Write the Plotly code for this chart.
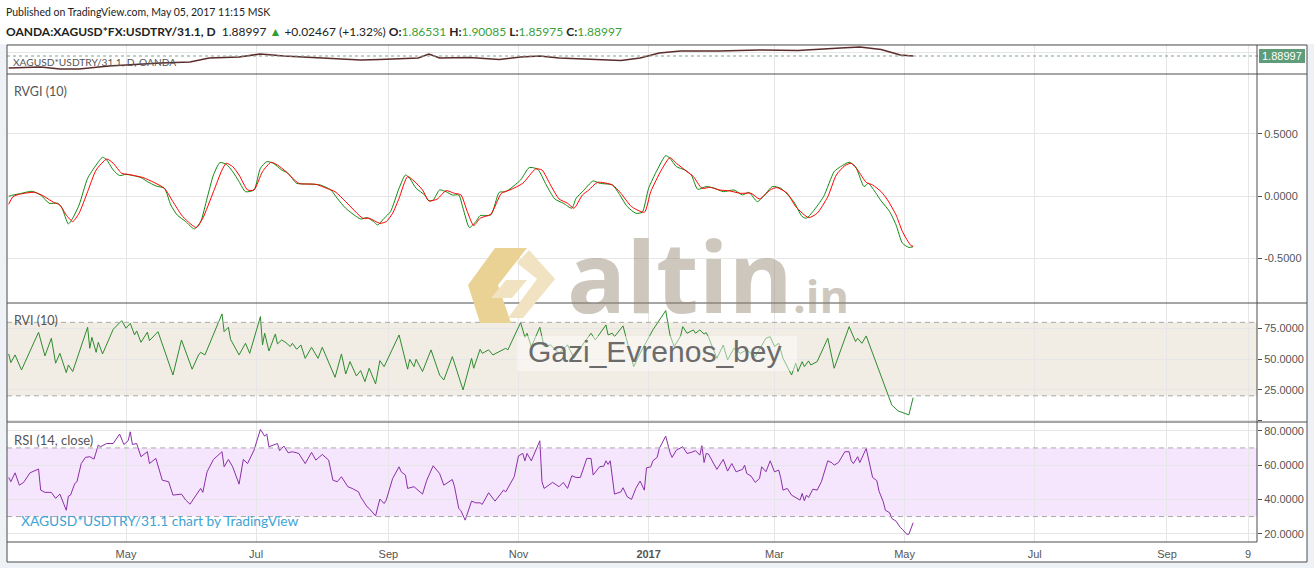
import plotly.graph_objects as go
from plotly.subplots import make_subplots

# ---------------- data ----------------
price_dates = ["2016-03-07", "2016-03-22", "2016-03-31", "2016-04-09", "2016-04-23", "2016-05-08",
               "2016-05-17", "2016-05-31", "2016-06-05", "2016-06-09", "2016-06-23", "2016-07-03",
               "2016-07-14", "2016-07-22", "2016-08-05", "2016-08-19", "2016-08-28", "2016-09-15",
               "2016-09-20", "2016-09-25", "2016-10-09", "2016-10-23", "2016-11-02", "2016-11-11",
               "2016-11-20", "2016-12-09", "2016-12-19", "2016-12-28", "2017-01-06", "2017-01-16",
               "2017-02-03", "2017-02-22", "2017-03-12", "2017-04-01", "2017-04-10", "2017-04-20",
               "2017-04-29", "2017-05-05"]
price_vals = [1.47, 1.505, 1.435, 1.435, 1.54, 1.61, 1.645, 1.68, 1.75, 1.82, 1.855, 1.96,
              1.89, 1.855, 1.82, 1.75, 1.77, 1.82, 1.96, 1.82, 1.84, 1.77, 1.855, 1.89,
              1.82, 1.77, 1.73, 1.82, 1.995, 2.065, 2.065, 2.10, 2.08, 2.17, 2.205, 2.12,
              1.925, 1.88997]
last_price = 1.88997

rvgi_dates = ["2016-03-07", "2016-03-09", "2016-03-12", "2016-03-18", "2016-03-22", "2016-03-26",
              "2016-03-30", "2016-04-01", "2016-04-04", "2016-04-06", "2016-04-09", "2016-04-13",
              "2016-04-17", "2016-04-20", "2016-04-22", "2016-04-25", "2016-04-28", "2016-05-01",
              "2016-05-08", "2016-05-11", "2016-05-15", "2016-05-19", "2016-05-22", "2016-05-25",
              "2016-05-29", "2016-06-02", "2016-06-05", "2016-06-08", "2016-06-11", "2016-06-14",
              "2016-06-17", "2016-06-20", "2016-06-23", "2016-06-26", "2016-06-30", "2016-07-03",
              "2016-07-06", "2016-07-09", "2016-07-13", "2016-07-16", "2016-07-20", "2016-07-25",
              "2016-07-31", "2016-08-05", "2016-08-08", "2016-08-12", "2016-08-19", "2016-08-22",
              "2016-08-25", "2016-08-27", "2016-08-30", "2016-09-02", "2016-09-06", "2016-09-09",
              "2016-09-11", "2016-09-14", "2016-09-18", "2016-09-20", "2016-09-22", "2016-09-25",
              "2016-09-28", "2016-10-01", "2016-10-04", "2016-10-06", "2016-10-09", "2016-10-12",
              "2016-10-14", "2016-10-19", "2016-10-23", "2016-10-26", "2016-11-02", "2016-11-06",
              "2016-11-10", "2016-11-14", "2016-11-18", "2016-11-22", "2016-11-26", "2016-11-28",
              "2016-12-01", "2016-12-06", "2016-12-09", "2016-12-15", "2016-12-18", "2016-12-22",
              "2016-12-26", "2016-12-29", "2017-01-01", "2017-01-05", "2017-01-09", "2017-01-11",
              "2017-01-14", "2017-01-18", "2017-01-21", "2017-01-24", "2017-01-28", "2017-02-01",
              "2017-02-05", "2017-02-10", "2017-02-14", "2017-02-17", "2017-02-21", "2017-02-25",
              "2017-02-28", "2017-03-04", "2017-03-10", "2017-03-14", "2017-03-16", "2017-03-19",
              "2017-03-24", "2017-03-29", "2017-04-01", "2017-04-05", "2017-04-08", "2017-04-12",
              "2017-04-14", "2017-04-16", "2017-04-20", "2017-04-24", "2017-04-27", "2017-04-30",
              "2017-05-03", "2017-05-05"]
rvgi_vals = [0.00, 0.01, 0.02, 0.04, 0.01, -0.056, -0.056, -0.096, -0.222, -0.176, -0.07, 0.144,
             0.251, 0.313, 0.291, 0.211, 0.166, 0.176, 0.150, 0.118, 0.083, 0.064, -0.07, -0.150,
             -0.203, -0.262, -0.203, -0.016, 0.171, 0.270, 0.257, 0.198, 0.118, 0.037, 0.051, 0.225,
             0.278, 0.265, 0.211, 0.184, 0.104, 0.099, 0.091, 0.051, -0.016, -0.096, -0.182, -0.171,
             -0.203, -0.230, -0.176, -0.123, 0.064, 0.171, 0.144, 0.064, 0.011, -0.037, -0.03, 0.051,
             0.037, 0.01, 0.01, -0.096, -0.251, -0.203, -0.155, -0.150, 0.032, 0.037, 0.131, 0.230,
             0.217, 0.091, -0.021, -0.056, -0.096, -0.016, 0.037, 0.123, 0.104, 0.091, 0.024, -0.083,
             -0.136, -0.128, 0.064, 0.211, 0.326, 0.305, 0.238, 0.211, 0.171, 0.056, 0.078, 0.064,
             0.037, 0.051, 0.011, 0.032, -0.043, 0.024, 0.078, 0.064, -0.043, -0.163, -0.176, -0.123,
             -0.003, 0.198, 0.238, 0.273, 0.238, 0.078, 0.104, 0.064, -0.037, -0.123, -0.230, -0.377,
             -0.41, -0.405]

signal_dates = ["2016-03-07", "2016-03-09", "2016-03-12", "2016-03-19", "2016-03-23", "2016-03-28",
                "2016-03-31", "2016-04-03", "2016-04-06", "2016-04-09", "2016-04-13", "2016-04-17",
                "2016-04-22", "2016-04-25", "2016-04-29", "2016-05-02", "2016-05-09", "2016-05-14",
                "2016-05-19", "2016-05-23", "2016-05-27", "2016-05-30", "2016-06-03", "2016-06-06",
                "2016-06-11", "2016-06-15", "2016-06-17", "2016-06-20", "2016-06-23", "2016-06-27",
                "2016-06-30", "2016-07-04", "2016-07-08", "2016-07-11", "2016-07-15", "2016-07-21",
                "2016-07-29", "2016-08-03", "2016-08-07", "2016-08-12", "2016-08-20", "2016-08-23",
                "2016-08-28", "2016-08-31", "2016-09-03", "2016-09-06", "2016-09-10", "2016-09-13",
                "2016-09-17", "2016-09-20", "2016-09-24", "2016-09-28", "2016-10-02", "2016-10-05",
                "2016-10-08", "2016-10-11", "2016-10-14", "2016-10-19", "2016-10-24", "2016-10-28",
                "2016-11-03", "2016-11-09", "2016-11-12", "2016-11-16", "2016-11-20", "2016-11-24",
                "2016-11-27", "2016-12-01", "2016-12-04", "2016-12-08", "2016-12-15", "2016-12-19",
                "2016-12-24", "2016-12-30", "2017-01-02", "2017-01-07", "2017-01-11", "2017-01-14",
                "2017-01-19", "2017-01-22", "2017-01-26", "2017-01-30", "2017-02-03", "2017-02-08",
                "2017-02-13", "2017-02-18", "2017-02-22", "2017-02-27", "2017-03-02", "2017-03-07",
                "2017-03-11", "2017-03-17", "2017-03-21", "2017-03-26", "2017-03-30", "2017-04-03",
                "2017-04-06", "2017-04-09", "2017-04-13", "2017-04-16", "2017-04-20", "2017-04-23",
                "2017-04-27", "2017-04-30", "2017-05-04", "2017-05-05"]
signal_vals = [-0.064, -0.003, 0.016, 0.032, 0.005, -0.048, -0.070, -0.150, -0.203, -0.136, 0.037, 0.211,
               0.299, 0.265, 0.184, 0.176, 0.150, 0.112, 0.064, -0.043, -0.150, -0.203, -0.251, -0.176,
               0.037, 0.211, 0.265, 0.238, 0.171, 0.051, 0.051, 0.198, 0.273, 0.251, 0.198, 0.104,
               0.096, 0.064, 0.037, -0.043, -0.176, -0.176, -0.217, -0.203, -0.136, -0.016, 0.158, 0.123,
               0.051, -0.037, -0.021, 0.045, 0.024, 0.011, -0.123, -0.235, -0.176, -0.144, 0.024, 0.051,
               0.104, 0.219, 0.211, 0.091, -0.021, -0.056, -0.096, 0.011, 0.051, 0.112, 0.091, 0.024,
               -0.083, -0.128, 0.037, 0.211, 0.310, 0.265, 0.198, 0.158, 0.064, 0.072, 0.051, 0.043,
               0.024, 0.024, -0.021, 0.051, 0.070, 0.024, -0.083, -0.171, -0.136, -0.003, 0.171, 0.246,
               0.265, 0.211, 0.112, 0.091, 0.037, -0.029, -0.150, -0.283, -0.396, -0.40]

rvi_dates = ["2016-03-07", "2016-03-08", "2016-03-10", "2016-03-13", "2016-03-21", "2016-03-24",
             "2016-03-27", "2016-03-29", "2016-03-31", "2016-04-03", "2016-04-04", "2016-04-06",
             "2016-04-13", "2016-04-14", "2016-04-15", "2016-04-17", "2016-04-18", "2016-04-20",
             "2016-04-25", "2016-04-29", "2016-05-01", "2016-05-03", "2016-05-05", "2016-05-06",
             "2016-05-08", "2016-05-11", "2016-05-12", "2016-05-16", "2016-05-23", "2016-05-27",
             "2016-06-01", "2016-06-04", "2016-06-05", "2016-06-07", "2016-06-15", "2016-06-16",
             "2016-06-18", "2016-06-19", "2016-06-23", "2016-06-26", "2016-06-28", "2016-07-03",
             "2016-07-04", "2016-07-05", "2016-07-07", "2016-07-10", "2016-07-11", "2016-07-13",
             "2016-07-15", "2016-07-17", "2016-07-18", "2016-07-20", "2016-07-22", "2016-07-24",
             "2016-07-27", "2016-07-30", "2016-08-01", "2016-08-07", "2016-08-10", "2016-08-12",
             "2016-08-14", "2016-08-17", "2016-08-19", "2016-08-21", "2016-08-23", "2016-08-26",
             "2016-08-28", "2016-08-30", "2016-09-06", "2016-09-10", "2016-09-11", "2016-09-13",
             "2016-09-14", "2016-09-17", "2016-09-21", "2016-09-25", "2016-09-27", "2016-10-01",
             "2016-10-06", "2016-10-10", "2016-10-11", "2016-10-14", "2016-10-15", "2016-10-18",
             "2016-10-20", "2016-10-26", "2016-10-27", "2016-11-02", "2016-11-04", "2016-11-05",
             "2016-11-07", "2016-11-11", "2016-11-13", "2016-11-16", "2016-11-20", "2016-11-24",
             "2016-11-27", "2016-12-01", "2016-12-05", "2016-12-07", "2016-12-12", "2016-12-13",
             "2016-12-15", "2016-12-16", "2016-12-20", "2016-12-25", "2016-12-28", "2017-01-03",
             "2017-01-09", "2017-01-11", "2017-01-13", "2017-01-16", "2017-01-17", "2017-01-19",
             "2017-01-22", "2017-01-23", "2017-01-25", "2017-01-27", "2017-01-28", "2017-01-29",
             "2017-02-02", "2017-02-05", "2017-02-07", "2017-02-10", "2017-02-13", "2017-02-16",
             "2017-02-20", "2017-02-25", "2017-02-27", "2017-03-01", "2017-03-03", "2017-03-05",
             "2017-03-09", "2017-03-11", "2017-03-12", "2017-03-14", "2017-03-15", "2017-03-17",
             "2017-03-18", "2017-03-21", "2017-03-26", "2017-03-29", "2017-04-05", "2017-04-08",
             "2017-04-09", "2017-04-11", "2017-04-13", "2017-04-20", "2017-04-23", "2017-04-25",
             "2017-04-28", "2017-05-03", "2017-05-05"]
rvi_vals = [54.2, 47.1, 53.4, 41.1, 71.9, 52.6, 67.0, 46.6, 54.7, 38.9, 45.2, 39.8,
            76.0, 58.8, 67.8, 55.5, 63.7, 54.2, 74.3, 81.4, 75.2, 79.2, 69.7, 73.0,
            63.7, 71.9, 65.1, 72.4, 37.0, 65.6, 41.7, 53.4, 55.5, 53.4, 86.9, 72.4,
            76.0, 66.2, 53.4, 62.9, 54.7, 84.7, 61.5, 71.1, 56.6, 70.5, 62.4, 65.6,
            63.4, 60.2, 62.9, 58.0, 61.5, 50.6, 59.6, 50.6, 59.6, 35.1, 54.2, 37.8,
            47.9, 36.2, 40.6, 31.6, 42.5, 29.7, 48.7, 43.8, 69.7, 41.7, 49.8, 43.8,
            49.8, 39.8, 57.5, 37.0, 32.9, 52.0, 24.8, 50.6, 42.5, 58.0, 54.7, 57.5,
            53.4, 58.8, 57.5, 79.8, 67.8, 71.1, 60.2, 76.0, 60.2, 61.5, 54.7, 61.5,
            50.6, 61.5, 71.1, 65.6, 77.9, 69.7, 71.1, 68.3, 77.1, 43.8, 54.7, 73.8,
            89.6, 69.7, 60.2, 68.9, 76.5, 71.1, 73.8, 71.1, 73.8, 70.5, 71.6, 68.3,
            50.6, 61.5, 49.3, 58.8, 54.7, 57.5, 52.0, 67.0, 68.3, 60.2, 62.9, 50.6,
            37.0, 46.6, 39.8, 47.9, 43.8, 48.5, 45.2, 47.9, 67.0, 42.5, 76.5, 64.3,
            67.0, 62.9, 68.9, 36.2, 20.7, 12.5, 7.6, 4.4, 18.5]

rsi_dates = ["2016-03-07", "2016-03-08", "2016-03-10", "2016-03-12", "2016-03-14", "2016-03-17",
             "2016-03-21", "2016-03-22", "2016-03-24", "2016-03-27", "2016-03-29", "2016-03-31",
             "2016-04-03", "2016-04-04", "2016-04-05", "2016-04-07", "2016-04-08", "2016-04-10",
             "2016-04-12", "2016-04-14", "2016-04-16", "2016-04-18", "2016-04-19", "2016-04-22",
             "2016-04-25", "2016-04-28", "2016-04-30", "2016-05-02", "2016-05-03", "2016-05-04",
             "2016-05-06", "2016-05-08", "2016-05-11", "2016-05-12", "2016-05-15", "2016-05-18",
             "2016-05-21", "2016-05-23", "2016-05-27", "2016-05-29", "2016-05-31", "2016-06-05",
             "2016-06-06", "2016-06-08", "2016-06-11", "2016-06-15", "2016-06-16", "2016-06-18",
             "2016-06-20", "2016-06-23", "2016-06-25", "2016-06-27", "2016-06-30", "2016-07-03",
             "2016-07-05", "2016-07-06", "2016-07-07", "2016-07-11", "2016-07-12", "2016-07-14",
             "2016-07-16", "2016-07-18", "2016-07-21", "2016-07-24", "2016-07-27", "2016-07-29",
             "2016-08-01", "2016-08-04", "2016-08-06", "2016-08-08", "2016-08-10", "2016-08-13",
             "2016-08-15", "2016-08-18", "2016-08-19", "2016-08-22", "2016-08-23", "2016-08-26",
             "2016-08-28", "2016-08-30", "2016-08-31", "2016-09-03", "2016-09-06", "2016-09-07",
             "2016-09-09", "2016-09-10", "2016-09-13", "2016-09-15", "2016-09-17", "2016-09-19",
             "2016-09-22", "2016-09-25", "2016-09-27", "2016-10-01", "2016-10-02", "2016-10-04",
             "2016-10-05", "2016-10-07", "2016-10-10", "2016-10-12", "2016-10-14", "2016-10-15",
             "2016-10-18", "2016-10-21", "2016-10-25", "2016-10-26", "2016-10-29", "2016-10-30",
             "2016-11-01", "2016-11-03", "2016-11-04", "2016-11-05", "2016-11-07", "2016-11-11",
             "2016-11-12", "2016-11-13", "2016-11-17", "2016-11-20", "2016-11-22", "2016-11-24",
             "2016-11-26", "2016-11-28", "2016-11-30", "2016-12-03", "2016-12-05", "2016-12-06",
             "2016-12-09", "2016-12-11", "2016-12-12", "2016-12-13", "2016-12-14", "2016-12-16",
             "2016-12-19", "2016-12-20", "2016-12-22", "2016-12-24", "2016-12-26", "2016-12-28",
             "2016-12-30", "2016-12-31", "2017-01-02", "2017-01-03", "2017-01-05", "2017-01-06",
             "2017-01-09", "2017-01-11", "2017-01-12", "2017-01-14", "2017-01-17", "2017-01-19",
             "2017-01-21", "2017-01-23", "2017-01-25", "2017-01-26", "2017-01-27", "2017-01-28",
             "2017-01-29", "2017-02-02", "2017-02-05", "2017-02-07", "2017-02-09", "2017-02-11",
             "2017-02-14", "2017-02-15", "2017-02-16", "2017-02-18", "2017-02-20", "2017-02-22",
             "2017-02-23", "2017-02-25", "2017-02-27", "2017-03-01", "2017-03-03", "2017-03-04",
             "2017-03-05", "2017-03-07", "2017-03-09", "2017-03-11", "2017-03-13", "2017-03-14",
             "2017-03-15", "2017-03-16", "2017-03-17", "2017-03-19", "2017-03-21", "2017-03-23",
             "2017-03-26", "2017-03-28", "2017-03-29", "2017-03-31", "2017-04-03", "2017-04-05",
             "2017-04-06", "2017-04-07", "2017-04-09", "2017-04-10", "2017-04-13", "2017-04-16",
             "2017-04-18", "2017-04-19", "2017-04-21", "2017-04-22", "2017-04-24", "2017-04-25",
             "2017-04-27", "2017-04-29", "2017-04-30", "2017-05-02", "2017-05-03", "2017-05-05"]
rsi_vals = [52.8, 50.3, 55.5, 48.3, 49.9, 55.5, 57.7, 45.4, 44.1, 44.1, 40.6, 43.1,
            33.7, 41.9, 42.5, 49.3, 50.3, 60.9, 64.5, 64.9, 63.5, 71.7, 70.7, 72.6,
            72.6, 78.1, 72.0, 74.2, 79.4, 72.0, 72.6, 64.9, 67.8, 60.9, 63.9, 51.2,
            50.3, 42.5, 43.1, 39.6, 37.2, 46.4, 44.1, 56.1, 63.3, 67.8, 59.0, 63.3,
            59.0, 48.9, 63.3, 60.9, 68.7, 80.8, 76.9, 78.1, 70.7, 72.6, 68.4, 71.1,
            67.2, 67.8, 66.8, 60.9, 67.4, 62.9, 66.2, 62.9, 51.2, 50.3, 53.2, 47.4,
            46.4, 44.4, 41.5, 35.7, 34.7, 30.4, 40.2, 37.6, 39.6, 52.2, 59.0, 56.1,
            54.2, 46.4, 47.4, 45.4, 43.1, 51.2, 59.6, 55.1, 48.3, 51.6, 47.4, 34.7,
            33.4, 27.9, 39.0, 38.0, 38.0, 37.1, 43.9, 39.0, 45.4, 44.4, 51.2, 53.2,
            65.4, 66.8, 62.5, 66.8, 62.5, 74.2, 50.3, 46.4, 49.9, 47.4, 49.9, 46.4,
            53.8, 52.8, 52.8, 63.9, 63.9, 54.2, 59.0, 59.4, 62.5, 60.4, 62.5, 43.1,
            44.4, 46.8, 41.5, 40.0, 46.4, 50.7, 45.4, 58.4, 59.0, 62.5, 64.5, 69.7,
            76.9, 67.4, 64.5, 68.7, 70.7, 66.8, 67.4, 68.4, 65.8, 71.3, 61.5, 66.8,
            66.5, 57.5, 63.3, 56.5, 60.9, 56.1, 57.5, 60.0, 55.1, 53.6, 49.9, 52.2,
            59.0, 56.1, 62.5, 56.1, 57.1, 52.2, 45.4, 46.4, 42.5, 41.1, 39.6, 43.5,
            39.2, 42.5, 41.1, 46.0, 45.4, 50.3, 62.5, 61.3, 60.0, 61.5, 67.8, 67.8,
            62.5, 60.9, 64.9, 61.5, 69.7, 52.8, 50.9, 44.8, 38.6, 33.7, 32.2, 28.9,
            27.3, 23.6, 22.5, 19.7, 19.7, 26.4]

tick_dates = ["2016-05-01", "2016-07-01", "2016-09-01", "2016-11-01", "2017-01-01",
              "2017-03-01", "2017-05-01", "2017-07-01", "2017-09-01", "2017-10-09"]
tick_text = ["May", "Jul", "Sep", "Nov", "<b>2017</b>", "Mar", "May", "Jul", "Sep", "9"]
x_range = ["2016-03-06 05:00", "2017-10-13 05:00"]

rvgi_ticks = [-0.5, 0.0, 0.5]
rvi_ticks = [0, 25, 50, 75]
rsi_ticks = [20, 40, 60, 80]
rvi_band = (20, 80)
rsi_band = (30, 70)

# ---------------- geometry helpers ----------------
W, H = 1314, 568
L, R, T, B = 7, 1257, 45, 542


def px(v):
    return (v - L) / (R - L)


def py(v):
    return (B - v) / (B - T)


AX = "#4d4d4d"
GRID = "#e6e6e6"
TXT = "#555555"
SANS = "Lato, Open Sans, sans-serif"

fig = make_subplots(rows=4, cols=1, shared_xaxes=True, vertical_spacing=0,
                    row_heights=[29, 229, 119, 120])

fig.add_trace(go.Scatter(x=price_dates, y=price_vals, mode="lines",
                         line=dict(color="#5b2c2c", width=1.6)), row=1, col=1)
fig.add_trace(go.Scatter(x=rvgi_dates, y=rvgi_vals, mode="lines",
                         line=dict(color="#118a11", width=1, shape="spline", smoothing=0.6)), row=2, col=1)
fig.add_trace(go.Scatter(x=signal_dates, y=signal_vals, mode="lines",
                         line=dict(color="#ff0000", width=1, shape="spline", smoothing=0.6)), row=2, col=1)
fig.add_trace(go.Scatter(x=rvi_dates, y=rvi_vals, mode="lines",
                         line=dict(color="#2e8b2e", width=1)), row=3, col=1)
fig.add_trace(go.Scatter(x=rsi_dates, y=rsi_vals, mode="lines",
                         line=dict(color="#8b2fa8", width=1)), row=4, col=1)

for i in range(1, 5):
    fig.update_xaxes(row=i, col=1, type="date", range=x_range, tickvals=tick_dates,
                     ticktext=tick_text, showgrid=True, gridcolor=GRID, gridwidth=1,
                     zeroline=False, showline=False, ticks="", showticklabels=(i == 4),
                     tickfont=dict(family="Liberation Sans, Arial", size=11, color=TXT),
                     ticklabelstandoff=4, fixedrange=True)

yax_common = dict(side="right", showgrid=True, gridcolor=GRID, gridwidth=1, zeroline=False,
                  showline=False, ticklen=4, tickcolor=AX,
                  tickfont=dict(family="Liberation Sans, Arial", size=11, color=TXT),
                  fixedrange=True)
fig.update_yaxes(row=1, col=1, range=[1.26, 2.275], tickvals=[2.0], showticklabels=False,
                 ticks="", **yax_common)
fig.update_yaxes(row=2, col=1, range=[-0.856, 0.981], tickvals=rvgi_ticks, ticks="outside",
                 ticktext=["%.4f" % v for v in rvgi_ticks], **yax_common)
fig.update_yaxes(row=3, col=1, range=[-1.4, 95.8], tickvals=rvi_ticks, ticks="outside",
                 ticktext=["" if v == 0 else "%.4f" % v for v in rvi_ticks], **yax_common)
fig.update_yaxes(row=4, col=1, range=[15.16, 85.13], tickvals=rsi_ticks, ticks="outside",
                 ticktext=["%.4f" % v for v in rsi_ticks], **yax_common)

shapes = []
# header white strip + white chart box
shapes.append(dict(type="rect", xref="paper", yref="paper", x0=px(0), x1=px(W), y0=py(44), y1=py(0),
                   fillcolor="white", line=dict(width=0), layer="below"))
shapes.append(dict(type="rect", xref="paper", yref="paper", x0=px(7), x1=px(1307), y0=py(562), y1=py(45),
                   fillcolor="white", line=dict(width=0), layer="below"))
# bands
shapes.append(dict(type="rect", xref="paper", yref="y3", x0=0, x1=1, y0=rvi_band[0], y1=rvi_band[1],
                   fillcolor="#f2ede4", line=dict(width=0), layer="below"))
shapes.append(dict(type="rect", xref="paper", yref="y4", x0=0, x1=1, y0=rsi_band[0], y1=rsi_band[1],
                   fillcolor="#f5e6fd", line=dict(width=0), layer="below"))
for yr, vals in (("y3", rvi_band), ("y4", rsi_band)):
    for v in vals:
        shapes.append(dict(type="line", xref="paper", yref=yr, x0=0, x1=1, y0=v, y1=v,
                           line=dict(color="#a8a8a8", width=1, dash="5px,4px"), layer="above"))
# last-price dotted line
shapes.append(dict(type="line", xref="paper", yref="y", x0=0, x1=px(1259), y0=last_price, y1=last_price,
                   line=dict(color="#7aa58c", width=1, dash="dot"), layer="above"))
# pane borders
for yy in (74, 303, 422):
    shapes.append(dict(type="line", xref="paper", yref="paper", x0=px(7), x1=px(1307), y0=py(yy), y1=py(yy),
                       line=dict(color=AX, width=1), layer="above"))
shapes.append(dict(type="line", xref="paper", yref="paper", x0=px(7), x1=px(1257), y0=py(542), y1=py(542),
                   line=dict(color=AX, width=1), layer="above"))
shapes.append(dict(type="line", xref="paper", yref="paper", x0=px(1257), x1=px(1257), y0=py(542), y1=py(45),
                   line=dict(color=AX, width=1), layer="above"))
shapes.append(dict(type="rect", xref="paper", yref="paper", x0=px(7), x1=px(1307), y0=py(562), y1=py(45),
                   fillcolor="rgba(0,0,0,0)", line=dict(color=AX, width=1), layer="above"))
# price label box
shapes.append(dict(type="rect", xref="paper", yref="paper", x0=px(1259), x1=px(1305), y0=py(63), y1=py(49),
                   fillcolor="#5f9d7a", line=dict(width=0), layer="above"))


def poly(points, color):
    d = "M " + " L ".join("%.5f,%.5f" % (px(a), py(b)) for a, b in points) + " Z"
    return dict(type="path", xref="paper", yref="paper", path=d, fillcolor=color,
                line=dict(width=0), layer="above")


# watermark logo icon
shapes.append(poly([(495, 248), (527, 248), (498, 285), (511, 323), (480, 323), (468, 285)], "#ead294"))
shapes.append(poly([(529, 250), (555, 279), (523, 318), (508, 318), (537, 279), (517, 263)], "#f1e3c1"))
shapes.append(poly([(506, 280), (527, 280), (512, 298), (491, 298)], "#f1e3c1"))
# translucent box behind the author text
shapes.append(dict(type="rect", xref="paper", yref="paper", x0=px(517), x1=px(797), y0=py(371), y1=py(336),
                   fillcolor="rgba(255,255,255,0.45)", line=dict(width=0), layer="above"))

annotations = []


def ann(text, x, y, size, color, family=SANS, xanchor="left", **extra):
    d = dict(text=text, x=px(x), y=py(y), xref="paper", yref="paper",
             xanchor=xanchor, yanchor="middle", showarrow=False,
             font=dict(family=family, size=size, color=color))
    d.update(extra)
    annotations.append(d)


G = "#3a9f3a"
header2 = ("<b>OANDA:XAGUSD*FX:USDTRY/31.1, D</b>  1.88997 <span style='color:#2e9e2e'>▲</span>"
           " +0.02467 (+1.32%) "
           "<b>O:</b><span style='color:{g}'>1.86531</span> "
           "<b>H:</b><span style='color:{g}'>1.90085</span> "
           "<b>L:</b><span style='color:{g}'>1.85975</span> "
           "<b>C:</b><span style='color:{g}'>1.88997</span>").format(g=G)
ann("Published on TradingView.com, May 05, 2017 11:15 MSK", 4, 12, 10.5, "#222")
ann(header2, 4, 31, 12, "#222")
ann("XAGUSD*USDTRY/31.1, D, OANDA", 11, 61.5, 10.2, "#555")
ann("RVGI (10)", 12, 92, 12.5, "#555")
ann("RVI (10)", 12, 320, 12.5, "#555")
ann("RSI (14, close)", 12, 440, 13, "#555")
ann("XAGUSD*USDTRY/31.1 chart by TradingView", 19, 520, 13.8, "#3fa3d6")
ann("1.88997", 1282, 56, 11, "white", family="Liberation Sans, Arial", xanchor="center")
# watermark texts
ann("<b>altin<span style='font-size:45px'>.in</span></b>", 565, 275, 98,
    "rgba(144,131,108,0.45)", family="Open Sans, sans-serif", height=82, valign="middle")
ann("Gazi_Evrenos_bey", 526, 351, 30, "#6b6b6b", family="Liberation Sans, Arial")

fig.update_layout(width=W, height=H, autosize=False,
                  margin=dict(l=L, r=W - R, t=T, b=H - B, pad=0),
                  paper_bgcolor="#eef1f5", plot_bgcolor="white",
                  showlegend=False, hovermode=False,
                  shapes=shapes, annotations=annotations,
                  font=dict(family="Liberation Sans, Arial", color=TXT))

fig.write_html("out.html", config={"displayModeBar": False, "staticPlot": True},
               post_script="document.body.style.margin='0px';")
